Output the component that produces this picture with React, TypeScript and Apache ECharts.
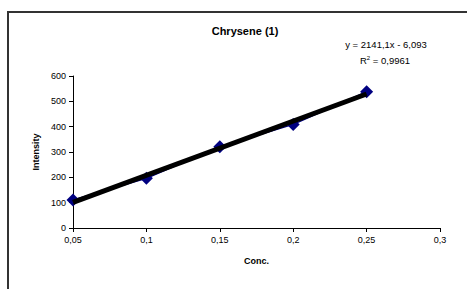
import React, { useEffect, useRef } from "react";
import * as echarts from "echarts";

const concentrations = [0.05, 0.1, 0.15, 0.2, 0.25];
const intensities = [111, 196, 321, 409, 538];
const trendX = [0.05, 0.25];
const trendY = [101, 529];
const titleText = "Chrysene (1)";
const equationText = "y = 2141,1x - 6,093";
const r2Text = "R{sup|2} = 0,9961";

const fmt = (v: number) => String(v).replace(".", ",");

export default function App() {
  const ref = useRef<HTMLDivElement>(null);
  useEffect(() => {
    if (!ref.current) return;
    const chart = echarts.init(ref.current, undefined, { renderer: "svg" });
    const font = "'Liberation Sans', Arial, sans-serif";
    chart.setOption({
      animation: false,
      backgroundColor: "#fff",
      textStyle: { fontFamily: font },
      title: {
        text: titleText,
        left: 240,
        top: 20,
        textAlign: "center",
        textStyle: { fontSize: 11, fontWeight: "bold", color: "#000", fontFamily: font },
      },
      grid: { left: 73, right: 27, top: 76, bottom: 61, containLabel: false },
      xAxis: {
        type: "value",
        min: 0.05,
        max: 0.3,
        interval: 0.05,
        name: "Conc.",
        nameLocation: "middle",
        nameGap: 28,
        nameTextStyle: { fontSize: 9, fontWeight: "bold", color: "#000", fontFamily: font },
        axisLine: { show: true, lineStyle: { color: "#000", width: 1 } },
        axisTick: { show: true, length: 4, inside: false, lineStyle: { color: "#000" } },
        axisLabel: {
          fontSize: 9,
          color: "#000",
          margin: 7,
          fontFamily: font,
          formatter: (v: number) => fmt(Math.round(v * 100) / 100),
        },
        splitLine: { show: false },
      },
      yAxis: {
        type: "value",
        min: 0,
        max: 600,
        interval: 100,
        name: "Intensity",
        nameLocation: "middle",
        nameGap: 31,
        nameRotate: 90,
        nameTextStyle: { fontSize: 9, fontWeight: "bold", color: "#000", fontFamily: font },
        axisLine: { show: true, lineStyle: { color: "#000", width: 1 } },
        axisTick: { show: true, length: 4, inside: false, lineStyle: { color: "#000" } },
        axisLabel: { fontSize: 9, color: "#000", margin: 7, fontFamily: font },
        splitLine: { show: false },
      },
      graphic: [
        {
          type: "polyline",
          shape: { points: [[8, 300], [8, 12], [480, 12]] },
          style: { stroke: "#333", lineWidth: 2, fill: "none" },
          silent: true,
          z: 0,
        },
        {
          type: "text",
          x: 386,
          y: 44,
          style: {
            text: equationText,
            fontSize: 9.5,
            fill: "#000",
            fontFamily: font,
            align: "center",
            verticalAlign: "middle",
          },
        },
        {
          type: "text",
          x: 385,
          y: 60,
          style: {
            text: r2Text,
            fontSize: 9.5,
            fill: "#000",
            fontFamily: font,
            align: "center",
            verticalAlign: "middle",
            rich: {
              sup: { fontSize: 6, verticalAlign: "top", padding: [0, 0, 5, 0], fontFamily: font },
            },
          },
        },
      ],
      series: [
        {
          type: "line",
          data: concentrations.map((c, i) => [c, intensities[i]]),
          symbol: "diamond",
          symbolSize: 13,
          itemStyle: { color: "#000080" },
          lineStyle: { color: "#000080", width: 1.5 },
          z: 2,
        },
        {
          type: "line",
          data: trendX.map((c, i) => [c, trendY[i]]),
          symbol: "none",
          lineStyle: { color: "#000", width: 5 },
          z: 3,
        },
      ],
    });
    return () => chart.dispose();
  }, []);
  return <div ref={ref} style={{ width: 467, height: 289, position: "absolute", left: 0, top: 0 }} />;
}
